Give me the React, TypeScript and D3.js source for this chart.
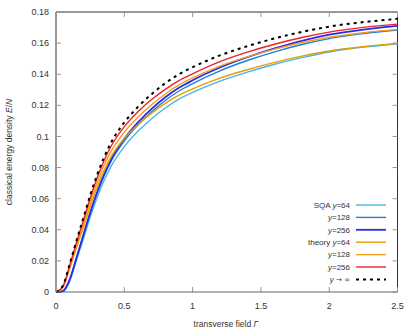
import React from 'react';
import * as d3 from 'd3';

// transverse field grid
const gammas = [0, 0.05, 0.1, 0.15, 0.2, 0.25, 0.3, 0.35, 0.4, 0.5, 0.6, 0.7, 0.8, 0.9, 1.0, 1.2, 1.4, 1.6, 1.8, 2.0, 2.25, 2.5];

// SQA results
const sqa64 = [0, 0.0003, 0.007, 0.0205, 0.034, 0.048, 0.0605, 0.0712, 0.0803, 0.0935, 0.1033, 0.1114, 0.1183, 0.124, 0.1283, 0.1356, 0.1413, 0.1464, 0.1507, 0.1543, 0.1574, 0.1596];
const sqa128 = [0, 0.0005, 0.0075, 0.0217, 0.036, 0.0503, 0.0632, 0.0743, 0.0835, 0.0971, 0.1073, 0.1158, 0.1231, 0.1292, 0.134, 0.1422, 0.1488, 0.1544, 0.1591, 0.1629, 0.1661, 0.1684];
const sqa256 = [0, 0.0006, 0.008, 0.022, 0.0365, 0.051, 0.064, 0.0752, 0.0845, 0.0985, 0.109, 0.1177, 0.1252, 0.1313, 0.1361, 0.1443, 0.1509, 0.1566, 0.1615, 0.1654, 0.1687, 0.1711];

// theory curves
const theory64 = [0, 0.003, 0.015, 0.0285, 0.0415, 0.055, 0.0672, 0.0777, 0.0865, 0.0988, 0.1077, 0.115, 0.1213, 0.1266, 0.1306, 0.1375, 0.1429, 0.1476, 0.1516, 0.1549, 0.1577, 0.1598];
const theory128 = [0, 0.003, 0.016, 0.03, 0.0438, 0.0577, 0.0702, 0.081, 0.0899, 0.1028, 0.1124, 0.1204, 0.1273, 0.1331, 0.1376, 0.1452, 0.1511, 0.1561, 0.1604, 0.1638, 0.1667, 0.1688];
const theory256 = [0, 0.0035, 0.017, 0.0318, 0.046, 0.0603, 0.0731, 0.0841, 0.0932, 0.1063, 0.1159, 0.1237, 0.1303, 0.1359, 0.1403, 0.1481, 0.1542, 0.1593, 0.1636, 0.1671, 0.1701, 0.1722];
const theoryInf = [0, 0.004, 0.018, 0.033, 0.0475, 0.062, 0.075, 0.0862, 0.0955, 0.109, 0.119, 0.1272, 0.1342, 0.14, 0.1445, 0.1521, 0.158, 0.163, 0.1672, 0.1706, 0.1735, 0.1756];

const xTicks = [0, 0.5, 1, 1.5, 2, 2.5];
const yTicks = [0, 0.02, 0.04, 0.06, 0.08, 0.1, 0.12, 0.14, 0.16, 0.18];

const series = [
  { prefix: 'SQA ', values: sqa64, size: '64', color: '#4ab4e6', width: 1.4, dash: null },
  { prefix: '', values: sqa128, size: '128', color: '#1f7fd8', width: 1.4, dash: null },
  { prefix: '', values: sqa256, size: '256', color: '#2a2ae8', width: 1.8, dash: null },
  { prefix: 'theory ', values: theory64, size: '64', color: '#e0a000', width: 1.4, dash: null },
  { prefix: '', values: theory128, size: '128', color: '#f39c1e', width: 1.4, dash: null },
  { prefix: '', values: theory256, size: '256', color: '#f0202a', width: 1.4, dash: null },
  { prefix: '', values: theoryInf, size: null, color: '#000', width: 2, dash: '3,4' },
];

export default function App() {
  const W = 415;
  const H = 332;
  const margin = { top: 12, right: 17.5, bottom: 40, left: 56 };
  const iw = W - margin.left - margin.right;
  const ih = H - margin.top - margin.bottom;

  const x = d3.scaleLinear().domain([0, 2.5]).range([0, iw]);
  const y = d3.scaleLinear().domain([0, 0.18]).range([ih, 0]);

  const line = (vals: number[]) =>
    d3.line<number>()
      .x((d, i) => x(gammas[i]))
      .y(d => y(d))
      .curve(d3.curveMonotoneX)(vals) || '';

  const font = '"Liberation Sans", Arial, sans-serif';
  const legX = 350;
  const legY0 = 205;
  const legStep = 12.4;

  return (
    <svg width={W} height={H} style={{ position: 'absolute', left: 0, top: 0, background: '#fff' }} fontFamily={font}>
      <g transform={`translate(${margin.left},${margin.top})`}>
        {/* frame: top/right dark */}
        <line x1={0} x2={iw} y1={0} y2={0} stroke="#333" strokeWidth={1} />
        <line x1={iw} x2={iw} y1={0} y2={ih} stroke="#333" strokeWidth={1} />

        {/* ticks */}
        {yTicks.map(t => (
          <g key={'y' + t}>
            <line x1={0} x2={5} y1={y(t)} y2={y(t)} stroke="#999" />
            <line x1={iw - 5} x2={iw} y1={y(t)} y2={y(t)} stroke="#999" />
            <text x={-7} y={y(t)} dy="0.35em" textAnchor="end" fontSize={9} fill="#333">{t === 0 ? '0' : d3.format('~g')(t)}</text>
          </g>
        ))}
        {xTicks.map(t => (
          <g key={'x' + t}>
            <line x1={x(t)} x2={x(t)} y1={ih} y2={ih - 5} stroke="#999" />
            <line x1={x(t)} x2={x(t)} y1={0} y2={5} stroke="#999" />
            <text x={x(t)} y={ih + 17} textAnchor="middle" fontSize={9} fill="#333">{String(t)}</text>
          </g>
        ))}

        {/* curves */}
        {series.map((s, i) => (
          <path key={i} d={line(s.values)} fill="none" stroke={s.color} strokeWidth={s.width} strokeDasharray={s.dash || undefined} />
        ))}

        {/* left/bottom axes gray */}
        <line x1={0} x2={0} y1={0} y2={ih} stroke="#999" strokeWidth={2} />
        <line x1={0} x2={iw} y1={ih} y2={ih} stroke="#666" strokeWidth={1} />
      </g>

      {/* legend */}
      {series.map((s, i) => {
        const yy = legY0 + i * legStep;
        return (
          <g key={'leg' + i}>
            <text x={legX} y={yy} dy="0.35em" textAnchor="end" fontSize={8} fill="#333">
              {s.prefix}
              <tspan fontStyle="italic">y</tspan>
              {s.size ? '=' + s.size : <tspan fontFamily="DejaVu Sans" fontSize={7}>{' → ∞'}</tspan>}
            </text>
            <line x1={356} x2={386} y1={yy} y2={yy} stroke={s.color} strokeWidth={s.width} strokeDasharray={s.dash || undefined} />
          </g>
        );
      })}

      {/* axis titles */}
      <text x={226} y={327} textAnchor="middle" fontSize={8.5} fill="#333">
        transverse field <tspan fontStyle="italic">Γ</tspan>
      </text>
      <text transform={`translate(12,${margin.top + ih / 2}) rotate(-90)`} textAnchor="middle" fontSize={8.5} fill="#333">
        classical energy density <tspan fontStyle="italic">E</tspan>/<tspan fontStyle="italic">N</tspan>
      </text>
    </svg>
  );
}
